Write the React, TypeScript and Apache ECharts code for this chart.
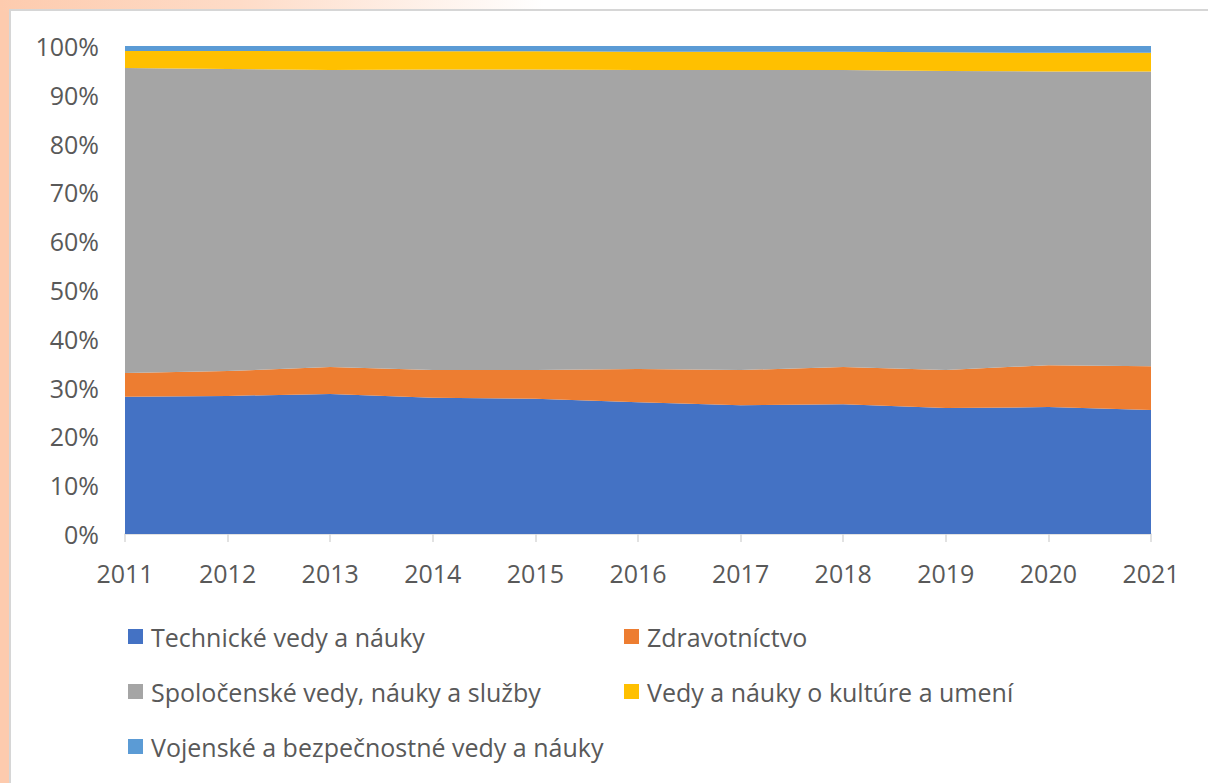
import React, { useEffect, useRef } from "react";
import * as echarts from "echarts";

const years = ["2011", "2012", "2013", "2014", "2015", "2016", "2017", "2018", "2019", "2020", "2021"];
const technicke = [28.1, 28.3, 28.7, 27.9, 27.7, 27.0, 26.4, 26.6, 25.8, 26.0, 25.4];
const zdravotnictvo = [4.9, 5.1, 5.5, 5.7, 5.9, 6.8, 7.2, 7.6, 7.8, 8.6, 9.0];
const spolocenske = [62.5, 61.9, 60.9, 61.6, 61.6, 61.3, 61.5, 60.9, 61.3, 60.2, 60.4];
const kultura = [3.5, 3.7, 3.8, 3.7, 3.7, 3.7, 3.7, 3.7, 3.8, 3.8, 3.8];
const vojenske = [1.0, 1.0, 1.1, 1.1, 1.1, 1.2, 1.2, 1.2, 1.3, 1.4, 1.4];

const seriesNames = [
  "Technické vedy a náuky",
  "Zdravotníctvo",
  "Spoločenské vedy, náuky a služby",
  "Vedy a náuky o kultúre a umení",
  "Vojenské a bezpečnostné vedy a náuky",
];
const seriesData = [technicke, zdravotnictvo, spolocenske, kultura, vojenske];
const colors = ["#4472C4", "#ED7D31", "#A5A5A5", "#FFC000", "#5B9BD5"];

const FONT = "'Open Sans', 'Noto Sans', sans-serif";
const TEXT_COLOR = "#595959";

export default function App() {
  const ref = useRef<HTMLDivElement>(null);

  useEffect(() => {
    if (!ref.current) return;
    const chart = echarts.init(ref.current, undefined, { renderer: "svg" });
    const legendPos = [
      { left: 128, top: 624 },
      { left: 624, top: 624 },
      { left: 128, top: 679 },
      { left: 624, top: 679 },
      { left: 128, top: 734 },
    ];
    chart.setOption({
      animation: false,
      color: colors,
      textStyle: { fontFamily: FONT },
      grid: { left: 125, right: 57, top: 46, bottom: 249, containLabel: false },
      legend: seriesNames.map((n, i) => ({
        data: [n],
        left: legendPos[i].left,
        top: legendPos[i].top,
        padding: 0,
        icon: "rect",
        itemWidth: 15,
        itemHeight: 15,
        selectedMode: false,
        textStyle: {
          color: TEXT_COLOR,
          fontSize: 25,
          fontFamily: FONT,
          padding: [0, 0, 0, 3],
        },
      })),
      xAxis: {
        type: "category",
        data: years,
        boundaryGap: false,
        axisLine: { show: true, lineStyle: { color: "#D9D9D9", width: 1.5 } },
        axisTick: { show: true, length: 8, lineStyle: { color: "#D9D9D9", width: 1.5 } },
        axisLabel: { color: TEXT_COLOR, fontSize: 25, margin: 26, fontFamily: FONT },
        splitLine: { show: false },
      },
      yAxis: {
        type: "value",
        min: 0,
        max: 100,
        interval: 10,
        axisLine: { show: false },
        axisTick: { show: false },
        splitLine: { show: false },
        axisLabel: {
          color: TEXT_COLOR,
          fontSize: 25,
          margin: 26,
          fontFamily: FONT,
          formatter: "{value}%",
        },
      },
      series: seriesNames.map((n, i) => ({
        name: n,
        type: "line",
        stack: "total",
        data: seriesData[i],
        showSymbol: false,
        symbol: "none",
        lineStyle: { width: 0 },
        areaStyle: { color: colors[i], opacity: 1 },
        itemStyle: { color: colors[i] },
      })),
    });
    return () => chart.dispose();
  }, []);

  return (
    <div
      style={{
        position: "fixed",
        left: 0,
        top: 0,
        width: 1208,
        height: 783,
        overflow: "hidden",
        background: "#FDCBAE",
      }}
    >
      <div
        style={{
          position: "absolute",
          left: 0,
          top: 0,
          width: 1208,
          height: 12,
          background: "linear-gradient(to right, #FDCBAE 0%, #FEDCC8 20%, #FFFFFF 45%, #FFFFFF 100%)",
        }}
      />
      <div
        style={{
          position: "absolute",
          left: 9,
          top: 9,
          width: 1220,
          height: 800,
          background: "#FFFFFF",
          borderTop: "2px solid #D6D6D6",
          borderLeft: "2px solid #D6D6D6",
        }}
      />
      <div
        ref={ref}
        style={{ position: "absolute", left: 0, top: 0, width: 1208, height: 783 }}
      />
    </div>
  );
}
